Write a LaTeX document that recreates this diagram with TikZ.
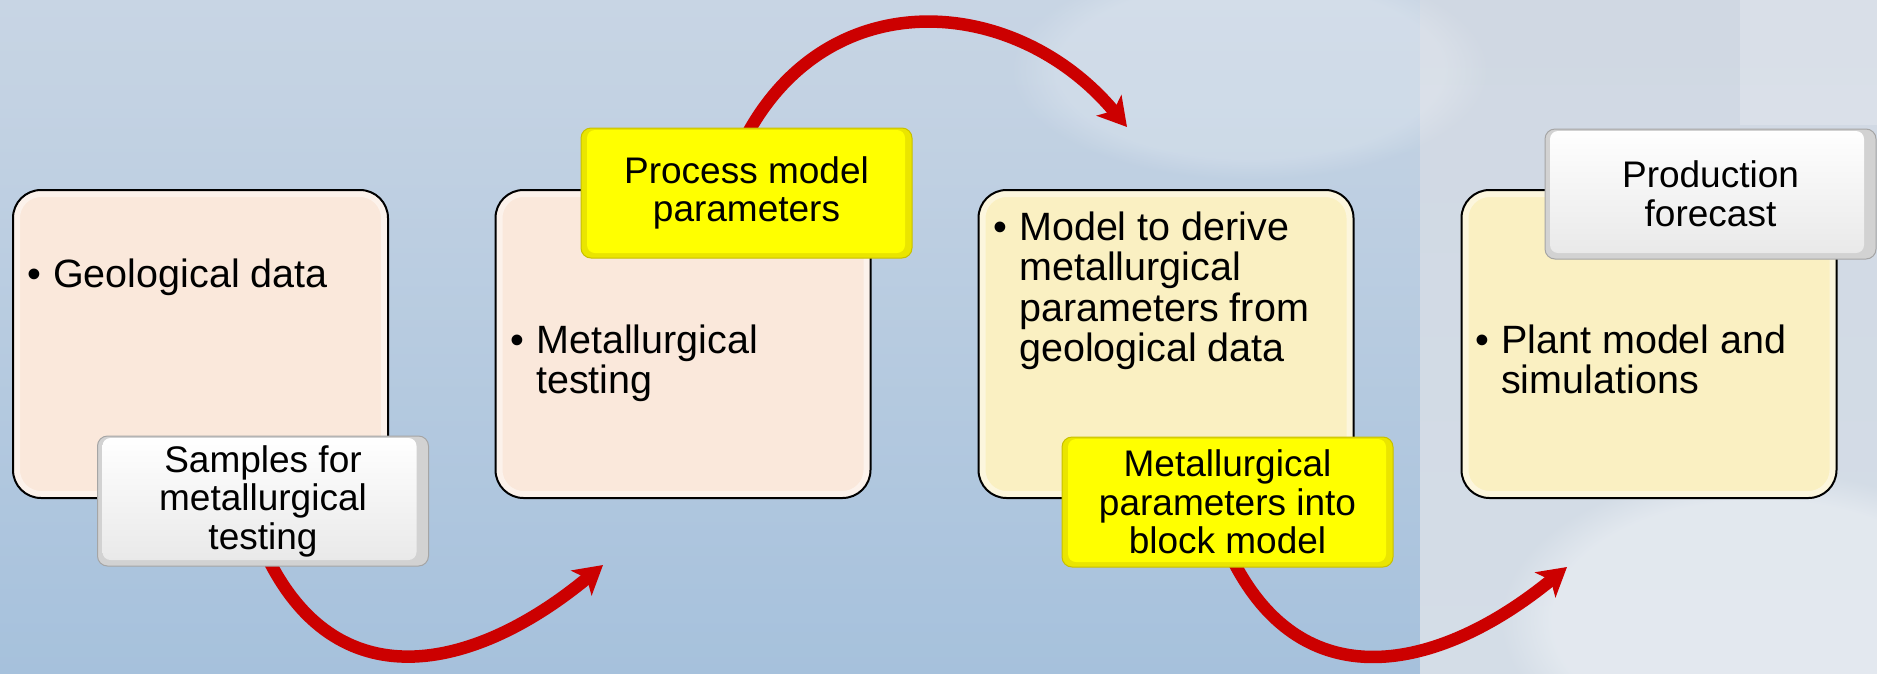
\documentclass[tikz,border=0pt]{standalone}
\usepackage{fontspec}
\setmainfont{Liberation Sans}
\usetikzlibrary{arrows.meta,fadings}

\definecolor{peach}{RGB}{250,232,219}
\definecolor{cream}{RGB}{250,240,194}
\definecolor{ylw}{RGB}{255,255,0}
\definecolor{ylwrim}{RGB}{234,229,0}
\definecolor{ylwedge}{RGB}{200,192,0}
\definecolor{greyrim}{RGB}{210,210,210}
\definecolor{greyedge}{RGB}{165,165,165}
\definecolor{flowred}{RGB}{204,0,0}
\definecolor{skytop}{RGB}{200,213,228}
\definecolor{skybot}{RGB}{166,193,220}
\definecolor{paletop}{RGB}{208,216,227}
\definecolor{palebot}{RGB}{212,221,231}

\newcommand{\bigtext}{\fontsize{39.5}{40}\selectfont}
\newcommand{\boxtext}{\fontsize{37}{38.5}\selectfont}
\newcommand{\bul}{\makebox[26pt][l]{\textbullet}}

\pgfdeclarelayer{sky}
\pgfdeclarelayer{flow}
\pgfsetlayers{sky,flow,main}

\tikzset{
  stage/.style={draw=black, line width=2pt, rounded corners=28pt,
    minimum width=375pt, minimum height=308pt, inner sep=0pt,
    path picture={\draw[white, opacity=.45, line width=14pt, rounded corners=28pt]
      (path picture bounding box.north west) rectangle (path picture bounding box.south east);}},
  tag/.style={rounded corners=10pt, minimum width=331pt, minimum height=130pt,
    inner sep=0pt, align=center, font=\boxtext, line width=1pt},
  yellowtag/.style={tag, draw=ylwedge, fill=ylwrim,
    path picture={\fill[ylw, rounded corners=8pt]
      ([shift={(6pt,-2pt)}]path picture bounding box.north west) rectangle
      ([shift={(-7pt,5pt)}]path picture bounding box.south east);}},
  whitetag/.style={tag, draw=greyedge, fill=greyrim,
    path picture={\shade[top color=white, bottom color=black!9, rounded corners=8pt]
      ([shift={(5pt,-2pt)}]path picture bounding box.north west) rectangle
      ([shift={(-12pt,6pt)}]path picture bounding box.south east);}},
  point/.style={anchor=base west, inner sep=0pt, font=\bigtext},
  flow/.style={draw=flowred, line width=12.5pt,
    -{Stealth[length=28pt, width=32pt, inset=7pt]}},
}

\begin{document}
\begin{tikzpicture}[x=1pt, y=-1pt]
\useasboundingbox (0,0) rectangle (1877,673);

% sky behind the chart
\begin{pgfonlayer}{sky}
  \shade[top color=skytop, bottom color=skybot] (0,0) rectangle (1420,673);
  \shade[top color=paletop, bottom color=palebot] (1420,0) rectangle (1877,673);
  \fill[white, opacity=.2] (1740,0) rectangle (1877,125);
  \fill[white, opacity=.2, path fading=circle with fuzzy edge 20 percent]
    (1250,70) ellipse (240 and 110);
  \fill[white, opacity=.35, path fading=circle with fuzzy edge 20 percent]
    (1760,620) ellipse (260 and 150);
\end{pgfonlayer}

% four stages
\node[stage, fill=peach] (s1) at (200.5,344) {};
\node[stage, fill=peach] (s2) at (683,344) {};
\node[stage, fill=cream] (s3) at (1166,344) {};
\node[stage, fill=cream] (s4) at (1649,344) {};

\node[point] (p1) at (27,287) {\bul Geological data};
\node[point] (p2) at (510,353)
  {\begin{tabular}[t]{@{}l@{}l@{}}\bul & Metallurgical\\ & testing\end{tabular}};
\node[point] (p3) at (993,240)
  {\begin{tabular}[t]{@{}l@{}l@{}}\bul & Model to derive\\ & metallurgical\\
   & parameters from\\ & geological data\end{tabular}};
\node[point] (p4) at (1475,353)
  {\begin{tabular}[t]{@{}l@{}l@{}}\bul & Plant model and\\ & simulations\end{tabular}};

% outputs handed from one stage to the next
\node[whitetag] (samples) at (263,501) {Samples for\\metallurgical\\testing};
\node[yellowtag] (process) at (746.5,193) {Process model\\parameters};
\node[yellowtag] (metall) at (1227.5,502) {Metallurgical\\parameters into\\block model};
\node[whitetag] (forecast) at (1710.5,194) {Production\\forecast};

% curved flow arrows
\coordinate (tip1) at (603,565);
\coordinate (tip2) at (1127,127);
\coordinate (tip3) at (1567,567);
\begin{pgfonlayer}{flow}
  \draw[flow] ([shift={(5pt,8pt)}]samples.south) .. controls (341,705) and (480,667) .. (tip1);
  \draw[flow] ([shift={(0pt,-8pt)}]process.north) .. controls (831,-21) and (1018,-4) .. (tip2);
  \draw[flow] ([shift={(5pt,8pt)}]metall.south) .. controls (1306,705) and (1445,667) .. (tip3);
\end{pgfonlayer}
\end{tikzpicture}
\end{document}
